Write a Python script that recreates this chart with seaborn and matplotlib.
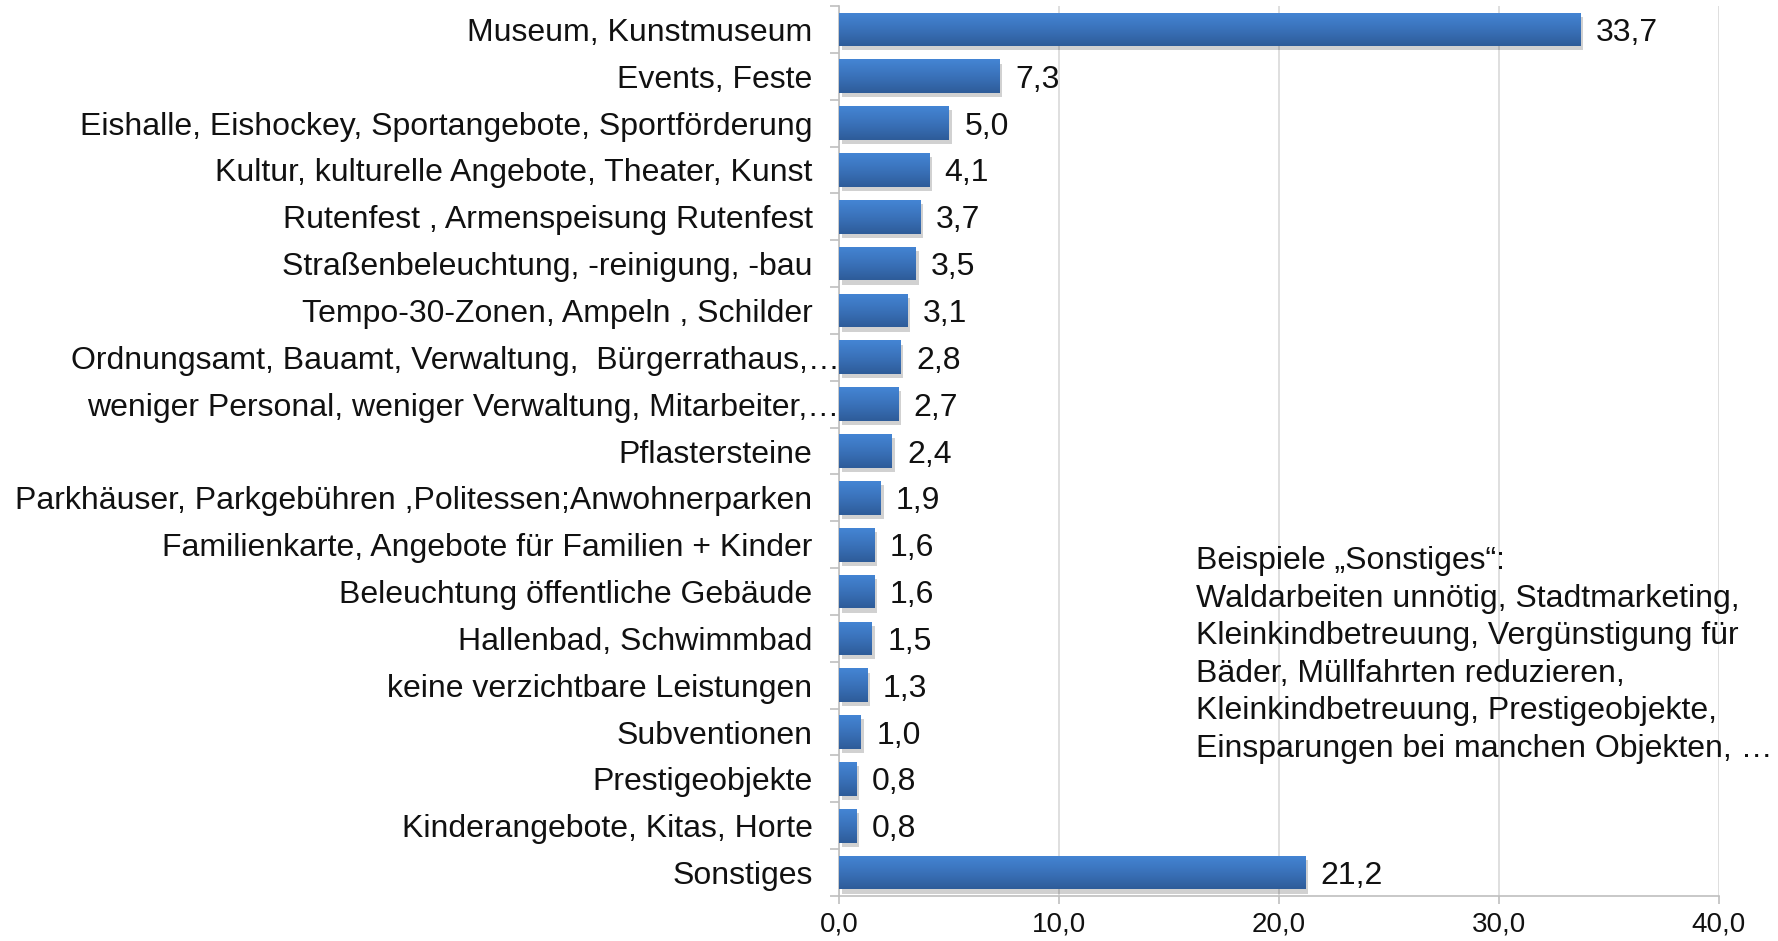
import numpy as np
import pandas as pd
import matplotlib
matplotlib.use("Agg")
import matplotlib.pyplot as plt
import matplotlib.patheffects as pe
import matplotlib.transforms as mtransforms
from matplotlib.colors import LinearSegmentedColormap
import seaborn as sns

categories = [
    "Museum, Kunstmuseum",
    "Events, Feste",
    "Eishalle, Eishockey, Sportangebote, Sportförderung",
    "Kultur, kulturelle Angebote, Theater, Kunst",
    "Rutenfest , Armenspeisung Rutenfest",
    "Straßenbeleuchtung, -reinigung, -bau",
    "Tempo-30-Zonen, Ampeln , Schilder",
    "Ordnungsamt, Bauamt, Verwaltung,  Bürgerrathaus,…",
    "weniger Personal, weniger Verwaltung, Mitarbeiter,…",
    "Pflastersteine",
    "Parkhäuser, Parkgebühren ,Politessen;Anwohnerparken",
    "Familienkarte, Angebote für Familien + Kinder",
    "Beleuchtung öffentliche Gebäude",
    "Hallenbad, Schwimmbad",
    "keine verzichtbare Leistungen",
    "Subventionen",
    "Prestigeobjekte",
    "Kinderangebote, Kitas, Horte",
    "Sonstiges",
]
values = [33.7, 7.3, 5.0, 4.1, 3.7, 3.5, 3.1, 2.8, 2.7, 2.4,
          1.9, 1.6, 1.6, 1.5, 1.3, 1.0, 0.8, 0.8, 21.2]
x_ticks = [0, 10, 20, 30, 40]
note_lines = [
    "Beispiele „Sonstiges“:",
    "Waldarbeiten unnötig, Stadtmarketing,",
    "Kleinkindbetreuung, Vergünstigung für",
    "Bäder, Müllfahrten reduzieren,",
    "Kleinkindbetreuung, Prestigeobjekte,",
    "Einsparungen bei manchen Objekten, …",
]

def de_num(v):
    return f"{v:.1f}".replace(".", ",")

sns.set_theme(style="white")
plt.rcParams["font.family"] = ["Liberation Sans", "DejaVu Sans"]

df = pd.DataFrame({"Kategorie": categories, "Wert": values})

fig = plt.figure(figsize=(17.78, 9.41), dpi=100)
ax = fig.add_axes([839 / 1778, 1 - 896 / 941, (1719 - 839) / 1778, (896 - 6) / 941])

sns.barplot(data=df, x="Wert", y="Kategorie", orient="h", color="#3A72C0",
            width=0.72, ax=ax, zorder=3, linewidth=0, edgecolor="none")

# vertical gradient on each bar plus a soft grey drop shadow
grad_cmap = LinearSegmentedColormap.from_list("bar", ["#4485D4", "#3A72BA", "#2E5C99"])
grad = np.linspace(0, 1, 64).reshape(-1, 1)
for patch in ax.patches:
    patch.set_path_effects([pe.SimplePatchShadow(offset=(2, -3), shadow_rgbFace="#000000",
                                                 alpha=0.18),
                            pe.Normal()])
    x0, y0 = patch.get_x(), patch.get_y()
    w, h = patch.get_width(), patch.get_height()
    im = ax.imshow(grad, cmap=grad_cmap, aspect="auto", zorder=4,
                   extent=(x0, x0 + w, y0 + h, y0), origin="upper",
                   interpolation="bilinear")
    im.set_clip_path(patch)

ax.set_xlim(0, 40)
ax.set_ylim(len(categories) - 0.5, -0.5)

# value labels to the right of each bar
for i, v in enumerate(values):
    ax.annotate(de_num(v), xy=(v, i), xytext=(11, 0), textcoords="offset points",
                ha="left", va="center_baseline", fontsize=23, color="#111111",
                zorder=5)

# axes styling
ax.set_xlabel("")
ax.set_ylabel("")
ax.set_xticks(x_ticks)
ax.set_xticklabels([de_num(t) for t in x_ticks], fontsize=20, color="#111111")
ax.xaxis.grid(True, color="#D9D9D9", linewidth=1.2, zorder=0)
ax.set_axisbelow(True)
for side in ["top", "right"]:
    ax.spines[side].set_visible(False)
ax.spines["left"].set_color("#BFBFBF")
ax.spines["bottom"].set_color("#BFBFBF")
ax.spines["left"].set_linewidth(1.2)
ax.spines["bottom"].set_linewidth(1.2)
ax.tick_params(axis="x", which="major", bottom=True, length=6, width=1.2,
               color="#BFBFBF", pad=5)
ax.tick_params(axis="y", which="major", left=False, length=0, pad=19,
               labelsize=23, labelcolor="#111111")
ax.set_yticks(np.arange(len(categories) + 1) - 0.5, minor=True)
ax.tick_params(axis="y", which="minor", left=True, length=6.5, width=1.2,
               color="#BFBFBF")

# truncated labels run on up to the axis line
shift = mtransforms.ScaledTranslation(27 / 100, 0, fig.dpi_scale_trans)
for lbl in ax.get_yticklabels():
    if lbl.get_text().endswith("…"):
        lbl.set_transform(lbl.get_transform() + shift)

note = "\n".join(note_lines)
fig.text(1196 / 1778, 1 - 546 / 941, note, ha="left", va="top",
         fontsize=23, color="#111111", linespacing=1.33)

fig.savefig("out.png", dpi=100, facecolor="white")
